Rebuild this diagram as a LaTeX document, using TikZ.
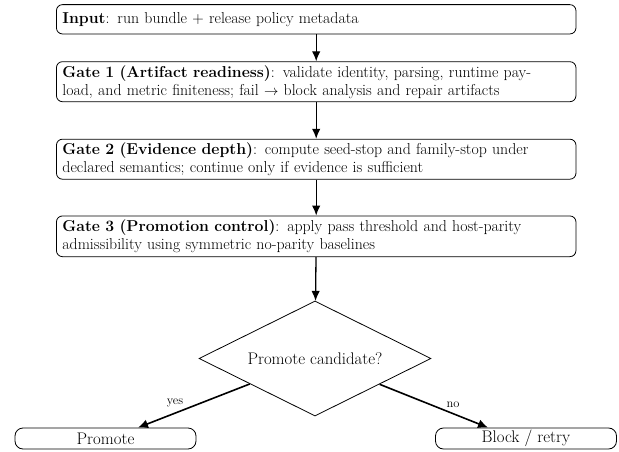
\documentclass[tikz,border=0pt]{standalone}
\usetikzlibrary{shapes.geometric,arrows.meta,calc}
\begin{document}
\begin{tikzpicture}[x=1pt,y=-1pt,
  box/.style={draw,rounded corners=6pt,line width=0.8pt,minimum width=519.5pt,
    text width=507.5pt,inner xsep=6pt,inner ysep=0pt,align=left,
    font=\fontsize{15.8}{18}\selectfont},
  endbox/.style={draw,rounded corners=8pt,line width=0.8pt,minimum width=181pt,
    minimum height=21pt,inner sep=0pt,font=\fontsize{16.8}{18}\selectfont},
  dec/.style={draw,diamond,aspect=2,line width=0.8pt,minimum width=232pt,minimum height=115pt,
    inner sep=0pt,font=\fontsize{16.8}{18}\selectfont},
  varr/.style={line width=1.3pt,-{Latex[length=10pt,width=8.5pt]}},
  darr/.style={line width=1.6pt,-{Latex[length=10pt,width=9pt]}},
  lab/.style={font=\fontsize{12.5}{14}\selectfont,inner sep=0pt}
]
\useasboundingbox (0,0) rectangle (619,452);
\node[box,minimum height=29.3pt] (input) at (316.2,19.3)
  {\textbf{Input}: run bundle + release policy metadata};
\node[box,minimum height=40pt] (g1) at (316.2,81.7)
  {\textbf{Gate 1 (Artifact readiness)}: validate identity, parsing, runtime pay-\\load, and metric finiteness; fail $\rightarrow$ block analysis and repair artifacts};
\node[box,minimum height=40pt] (g2) at (316.2,159.2)
  {\textbf{Gate 2 (Evidence depth)}: compute seed-stop and family-stop under\\declared semantics; continue only if evidence is sufficient};
\node[box,minimum height=40.7pt] (g3) at (316.2,236.3)
  {\textbf{Gate 3 (Promotion control)}: apply pass threshold and host-parity\\admissibility using symmetric no-parity baselines};
\node[dec] (dia) at (315,358.5) {Promote candidate?};
\node[endbox] (prom) at (105.5,438.5) {Promote};
\node[endbox] (blk) at (526,438.5) {Block / retry};
\coordinate (pt) at ($(prom.north)+(32.5,0)$);
\coordinate (bt) at ($(blk.north)+(-38,0)$);
\draw[varr] (input) -- (g1);
\draw[varr] (g1) -- (g2);
\draw[varr] (g2) -- (g3);
\draw[varr] (g3) -- (dia);
\draw[darr] (dia) -- (pt);
\draw[darr] (dia) -- (bt);
\node[lab] (ly) at (175,403) {yes};
\node[lab] (ln) at (453,405) {no};
\end{tikzpicture}
\end{document}
